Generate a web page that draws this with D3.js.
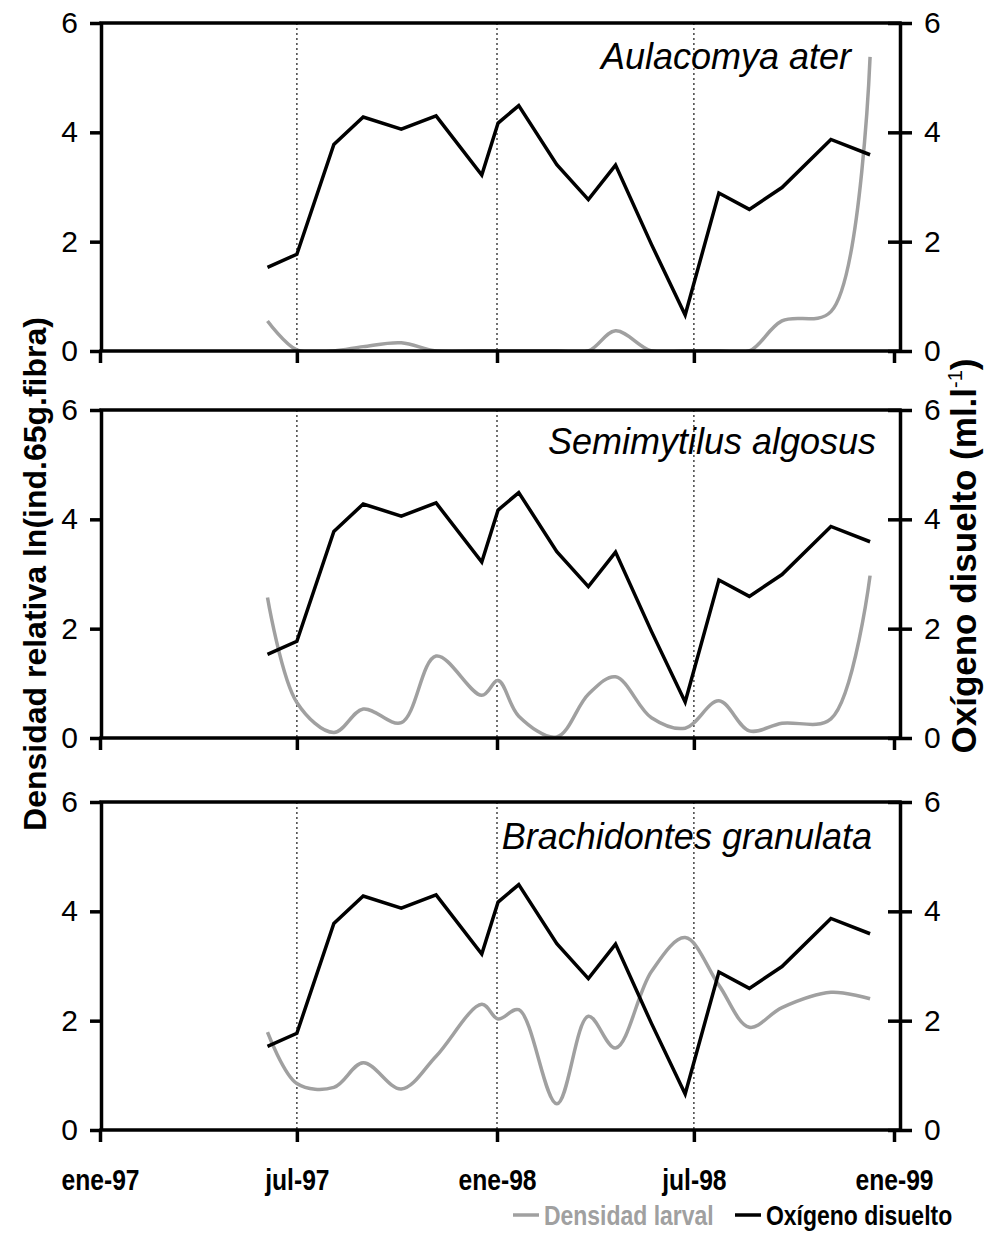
<!DOCTYPE html>
<html>
<head>
<meta charset="utf-8">
<script src="https://cdn.jsdelivr.net/npm/d3@7"></script>
<style>
  body { margin: 0; background: #fff; }
  text { font-family: "Liberation Sans", Arial, sans-serif; }
</style>
</head>
<body>
<script>
// fechas de muestreo
var fechas = ["1997-06-04", "1997-07-01", "1997-08-04", "1997-08-31", "1997-10-05", "1997-11-06",
              "1997-12-18", "1998-01-02", "1998-01-21", "1998-02-25", "1998-03-26", "1998-04-20",
              "1998-05-23", "1998-06-23", "1998-07-24", "1998-08-21", "1998-09-20", "1998-11-04",
              "1998-12-10"];

// oxigeno disuelto (ml/l), igual en los tres paneles
var oxigeno = [1.53, 1.77, 3.78, 4.28, 4.06, 4.30, 3.22, 4.17, 4.49, 3.41, 2.77, 3.40,
               1.95, 0.66, 2.89, 2.59, 2.99, 3.87, 3.59];

// densidad larval ln(ind.65g fibra)
var larvasAulacomya = [0.55, 0.02, 0.00, 0.08, 0.15, 0.00, 0.00, 0.00, 0.00, 0.00, 0.00, 0.37,
                       0.00, 0.00, 0.00, 0.00, 0.55, 0.72, 5.38];
var larvasSemimytilus = [2.57, 0.65, 0.10, 0.53, 0.28, 1.50, 0.78, 1.05, 0.40, 0.02, 0.80, 1.12,
                         0.37, 0.18, 0.68, 0.13, 0.27, 0.35, 2.97];
var larvasBrachidontes = [1.79, 0.85, 0.78, 1.23, 0.75, 1.35, 2.30, 2.03, 2.20, 0.48, 2.08, 1.50,
                          2.90, 3.52, 2.65, 1.88, 2.24, 2.52, 2.40];

var especies = ["Aulacomya ater", "Semimytilus algosus", "Brachidontes granulata"];
var larvas = [larvasAulacomya, larvasSemimytilus, larvasBrachidontes];

var yTicks = [0, 2, 4, 6];
var xTicks = ["1997-01-01", "1997-07-01", "1998-01-01", "1998-07-01", "1999-01-01"];
var xTickLabels = ["ene-97", "jul-97", "ene-98", "jul-98", "ene-99"];
var guias = ["1997-07-01", "1998-01-01", "1998-07-01"];

var parse = d3.timeParse("%Y-%m-%d");

var W = 994, H = 1235,
    left = 101, right = 900,
    panelTop = [23, 410, 802],
    panelH = 328,
    labelEnd = [851, 876, 872],
    labelBase = [46, 44, 47],
    gris = "#a0a0a0";

var svg = d3.select("body").append("svg").attr("width", W).attr("height", H);

var x = d3.scaleTime().domain([parse("1997-01-01"), parse("1999-01-01")]).range([100, 894]);
var y = d3.scaleLinear().domain([0, 6]).range([panelH, 0]);

var lineaOx = d3.line().x(function (d, i) { return x(parse(fechas[i])); }).y(function (d) { return y(d); });
var lineaLarvas = d3.line().x(function (d, i) { return x(parse(fechas[i])); }).y(function (d) { return y(d); })
    .curve(d3.curveCatmullRom.alpha(0.5));

especies.forEach(function (nombre, p) {
  var g = svg.append("g").attr("transform", "translate(0," + panelTop[p] + ")");

  g.append("clipPath").attr("id", "clip" + p)
    .append("rect").attr("x", left).attr("y", 0).attr("width", right - left).attr("height", panelH);

  // lineas punteadas verticales
  g.selectAll(".guia").data(guias).enter().append("line")
    .attr("x1", function (d) { return x(parse(d)); }).attr("x2", function (d) { return x(parse(d)); })
    .attr("y1", 0).attr("y2", panelH)
    .attr("stroke", "#444").attr("stroke-width", 1.5).attr("stroke-dasharray", "2,3");

  g.append("path").datum(larvas[p])
    .attr("d", lineaLarvas).attr("fill", "none")
    .attr("stroke", gris).attr("stroke-width", 3.5)
    .attr("clip-path", "url(#clip" + p + ")");

  g.append("path").datum(oxigeno)
    .attr("d", lineaOx).attr("fill", "none")
    .attr("stroke", "#000").attr("stroke-width", 3.5).attr("stroke-linejoin", "miter");

  // marco superior e inferior
  g.append("line").attr("x1", left).attr("x2", right).attr("y1", 0).attr("y2", 0)
    .attr("stroke", "#000").attr("stroke-width", 3.5).attr("stroke-linecap", "square");
  g.append("line").attr("x1", left).attr("x2", right).attr("y1", panelH).attr("y2", panelH)
    .attr("stroke", "#000").attr("stroke-width", 3.5).attr("stroke-linecap", "square");

  var yAxisL = g.append("g").attr("transform", "translate(" + left + ",0)")
    .call(d3.axisLeft(y).tickValues(yTicks).tickFormat(d3.format("d"))
      .tickSize(11).tickSizeOuter(0).tickPadding(12));
  var yAxisR = g.append("g").attr("transform", "translate(" + right + ",0)")
    .call(d3.axisRight(y).tickValues(yTicks).tickFormat(d3.format("d"))
      .tickSize(12).tickSizeOuter(0).tickPadding(12));
  yAxisR.selectAll(".tick line").attr("x1", -12);

  var xAxis = g.append("g").attr("transform", "translate(0," + panelH + ")")
    .call(d3.axisBottom(x).tickValues(xTicks.map(parse)).tickSize(12)
      .tickFormat(function (d, i) { return p == 2 ? xTickLabels[i] : ""; }));
  xAxis.select(".domain").remove();
  xAxis.selectAll("text").attr("x", 0).attr("y", 0).attr("dy", null)
    .attr("transform", "translate(0,60) scale(0.85,1)")
    .attr("font-size", 29).attr("font-weight", "bold");

  [yAxisL, yAxisR, xAxis].forEach(function (a) {
    a.attr("font-family", null).attr("font-size", null);
    a.selectAll("line, path").attr("stroke-width", 3.5);
  });
  yAxisL.selectAll("text").attr("font-size", 30);
  yAxisR.selectAll("text").attr("font-size", 30);

  g.append("text").attr("x", labelEnd[p]).attr("y", labelBase[p])
    .attr("text-anchor", "end").attr("font-style", "italic").attr("font-size", 36)
    .text(nombre);
});

// titulos de ejes
svg.append("text").attr("transform", "translate(46,574) rotate(-90)")
  .attr("text-anchor", "middle").attr("font-weight", "bold").attr("font-size", 32)
  .text("Densidad relativa ln(ind.65g.fibra)");

var tDer = svg.append("text").attr("transform", "translate(976,556) rotate(-90)")
  .attr("text-anchor", "middle").attr("font-weight", "bold").attr("font-size", 35);
tDer.append("tspan").text("Oxígeno disuelto (ml.l");
tDer.append("tspan").attr("dy", -14).attr("font-size", 20).attr("font-weight", "normal").text("-1");
tDer.append("tspan").attr("dy", 14).text(")");

// leyenda
var leyenda = [{ nombre: "Densidad larval", color: gris, x: 513 },
               { nombre: "Oxígeno disuelto", color: "#000", x: 735 }];
var lg = svg.selectAll(".ley").data(leyenda).enter().append("g")
  .attr("transform", function (d) { return "translate(" + d.x + ",1215)"; });
lg.append("line").attr("x1", 0).attr("x2", 26).attr("stroke", function (d) { return d.color; }).attr("stroke-width", 3.5);
lg.append("text").attr("transform", "translate(31,10) scale(0.82,1)")
  .attr("font-weight", "bold").attr("font-size", 28)
  .attr("fill", function (d) { return d.color; }).text(function (d) { return d.nombre; });
</script>
</body>
</html>
